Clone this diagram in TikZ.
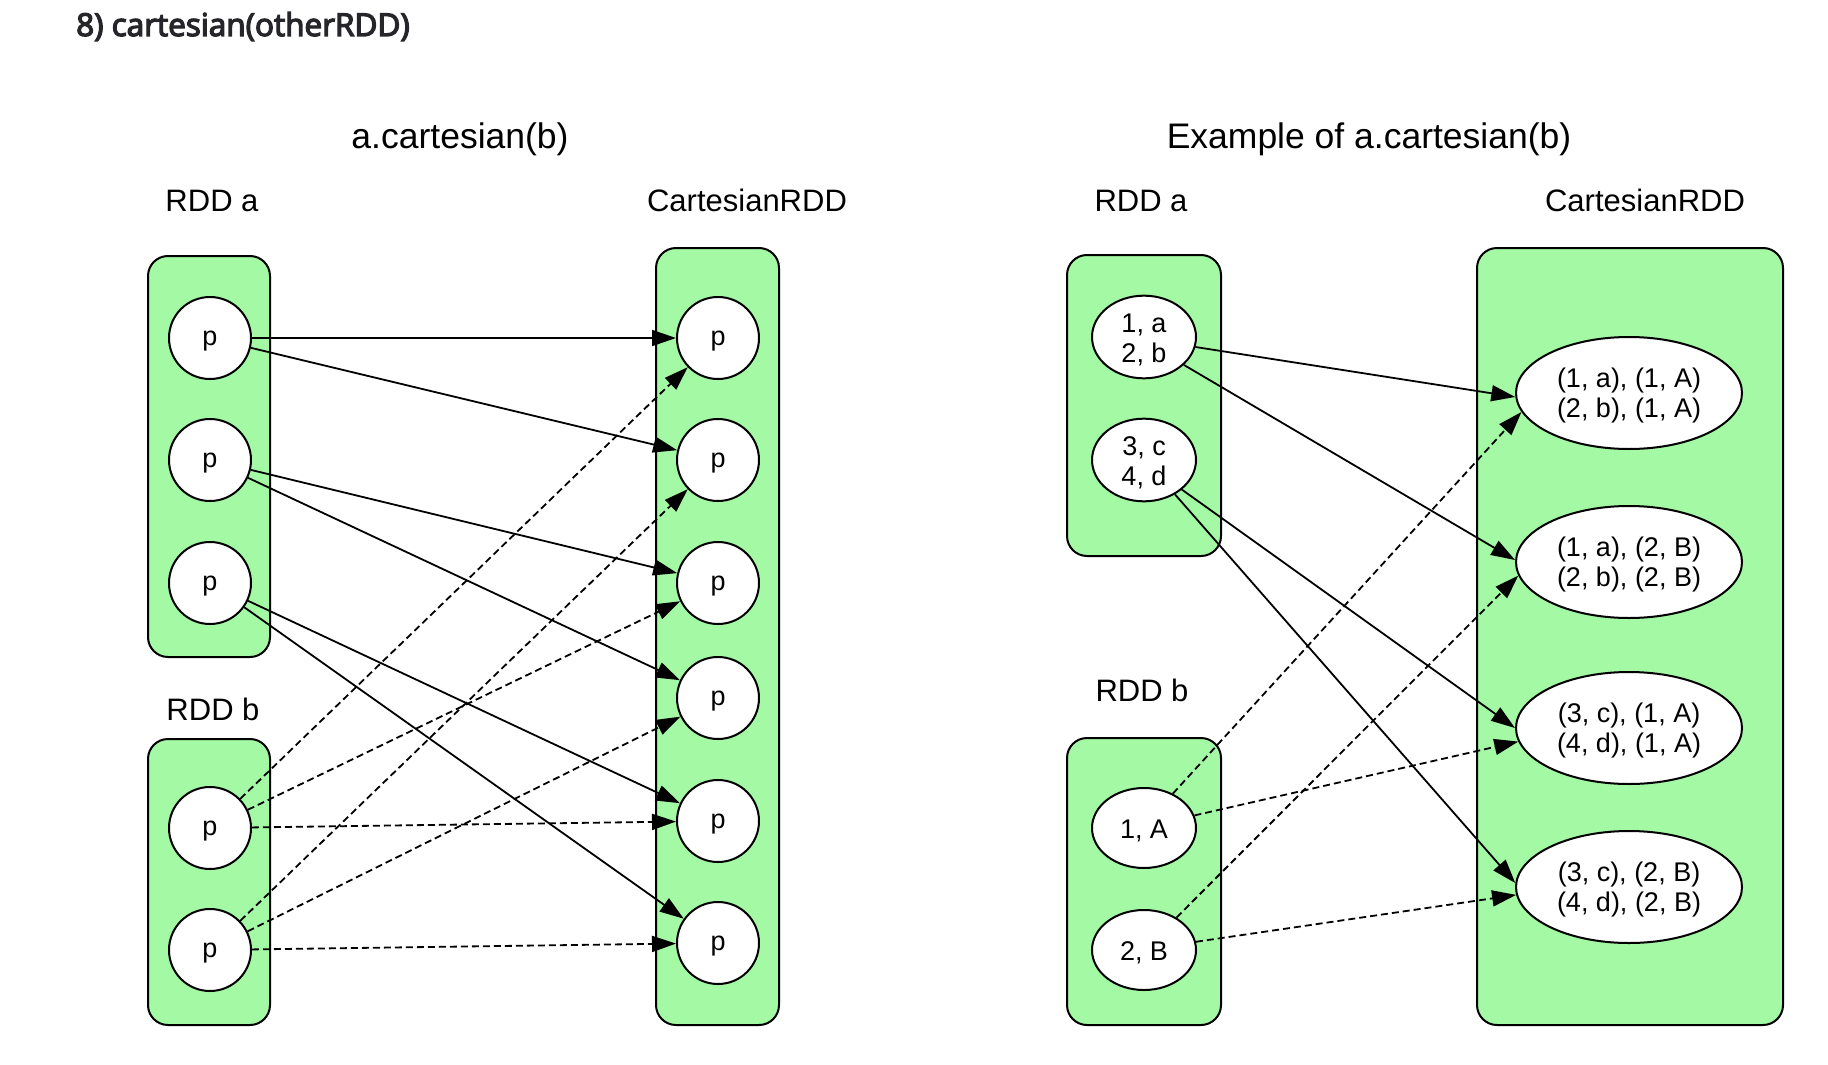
\documentclass[tikz,border=0pt]{standalone}
\usepackage{fontspec}
\setmainfont{Liberation Sans}
\newfontfamily\titlefont[FakeBold=4]{Open Sans}
\usetikzlibrary{arrows.meta,shapes.geometric}
\definecolor{rddgreen}{RGB}{164,249,164}
\definecolor{titlegray}{RGB}{38,38,42}
\newcommand{\firstline}{\rule{0pt}{25pt}}
\begin{document}
\begin{tikzpicture}[x=1pt,y=-1pt,
  rddbox/.style={draw=black,line width=2pt,fill=rddgreen,rounded corners=20pt,rectangle,inner sep=0pt},
  part/.style={circle,draw=black,line width=2pt,fill=white,minimum size=82pt,inner sep=0pt,font=\fontsize{27}{30}\selectfont,text height=21pt,text depth=6pt},
  elem/.style={ellipse,draw=black,line width=2pt,fill=white,minimum width=104pt,minimum height=80pt,inner sep=0pt,align=center,font=\fontsize{27}{30}\selectfont},
  single/.style={elem,text height=27pt,text depth=6pt},
  res/.style={elem,minimum width=226pt,minimum height=112pt},
  lbl/.style={font=\fontsize{31}{36}\selectfont,inner sep=0pt,anchor=base},
  ttl/.style={font=\fontsize{35.5}{40}\selectfont,inner sep=0pt,anchor=base},
  conn/.style={line width=1.8pt,-{Triangle[length=24pt,width=16pt]}},
  dconn/.style={conn,dash pattern=on 7pt off 4pt},
]
\useasboundingbox[fill=white] (0,0) rectangle (1828,1065);

% page title
\node[anchor=base west,inner sep=0pt,text=titlegray,font=\titlefont\fontsize{31.5}{36}\selectfont] (pagetitle) at (76,36) {8) cartesian(otherRDD)};

% ---------------- left diagram ----------------
\node[ttl] (ltitle) at (460,148) {a.cartesian(b)};
\node[lbl] (lrddalbl) at (212,211) {RDD a};
\node[lbl] (lcartlbl) at (747,211) {CartesianRDD};
\node[lbl] (lrddblbl) at (213,720) {RDD b};

\node[rddbox,minimum width=122pt,minimum height=401pt] (lboxa) at (209,456.5) {};
\node[rddbox,minimum width=122pt,minimum height=286pt] (lboxb) at (209,882) {};
\node[rddbox,minimum width=123pt,minimum height=777pt] (lboxc) at (717.5,636.5) {};

\node[part] (a1) at (210,338) {p};
\node[part] (a2) at (210,460) {p};
\node[part] (a3) at (210,583) {p};
\node[part] (b1) at (210,828) {p};
\node[part] (b2) at (210,950) {p};
\node[part] (c1) at (718,338) {p};
\node[part] (c2) at (718,460) {p};
\node[part] (c3) at (718,583) {p};
\node[part] (c4) at (718,698) {p};
\node[part] (c5) at (718,821) {p};
\node[part] (c6) at (718,943) {p};

\draw[conn] (a1) -- (c1);
\draw[conn] (a1) -- (c2);
\draw[conn] (a2) -- (c3);
\draw[conn] (a2) -- (c4);
\draw[conn] (a3) -- (c5);
\draw[conn] (a3) -- (c6);
\draw[dconn] (b1) -- (c1);
\draw[dconn] (b1) -- (c3);
\draw[dconn] (b1) -- (c5);
\draw[dconn] (b2) -- (c2);
\draw[dconn] (b2) -- (c4);
\draw[dconn] (b2) -- (c6);

% ---------------- right diagram ----------------
\node[ttl] (rtitle) at (1369,148) {Example of a.cartesian(b)};
\node[lbl] (rrddalbl) at (1141,211) {RDD a};
\node[lbl] (rcartlbl) at (1645,211) {CartesianRDD};
\node[lbl] (rrddblbl) at (1142,701) {RDD b};

\node[rddbox,minimum width=154pt,minimum height=301pt] (rboxa) at (1144,405.5) {};
\node[rddbox,minimum width=154pt,minimum height=287pt] (rboxb) at (1144,881.5) {};
\node[rddbox,minimum width=306pt,minimum height=777pt] (rboxc) at (1630,636.5) {};

\node[elem] (ra1) at (1144,337) {\firstline 1, a\\2, b};
\node[elem] (ra2) at (1144,460) {\firstline 3, c\\4, d};
\node[single] (rb1) at (1144,828) {1, A};
\node[single] (rb2) at (1144,950) {2, B};
\node[res] (e1) at (1629,393) {\firstline (1, a), (1, A)\\(2, b), (1, A)};
\node[res] (e2) at (1629,562) {\firstline (1, a), (2, B)\\(2, b), (2, B)};
\node[res] (e3) at (1629,728) {\firstline (3, c), (1, A)\\(4, d), (1, A)};
\node[res] (e4) at (1629,887) {\firstline (3, c), (2, B)\\(4, d), (2, B)};

\draw[conn] (ra1.-11) -- (e1.182);
\draw[conn] (ra1.-35) -- (e2.179);
\draw[conn] (ra2.-38) -- (e3.180);
\draw[conn] (ra2.-48) -- (e4.178);
\draw[dconn] (rb1.50) -- (e1.190);
\draw[dconn] (rb1.14) -- (e3.187);
\draw[dconn] (rb2.45) -- (e2.187);
\draw[dconn] (rb2.9) -- (e4.184);
\end{tikzpicture}
\end{document}
